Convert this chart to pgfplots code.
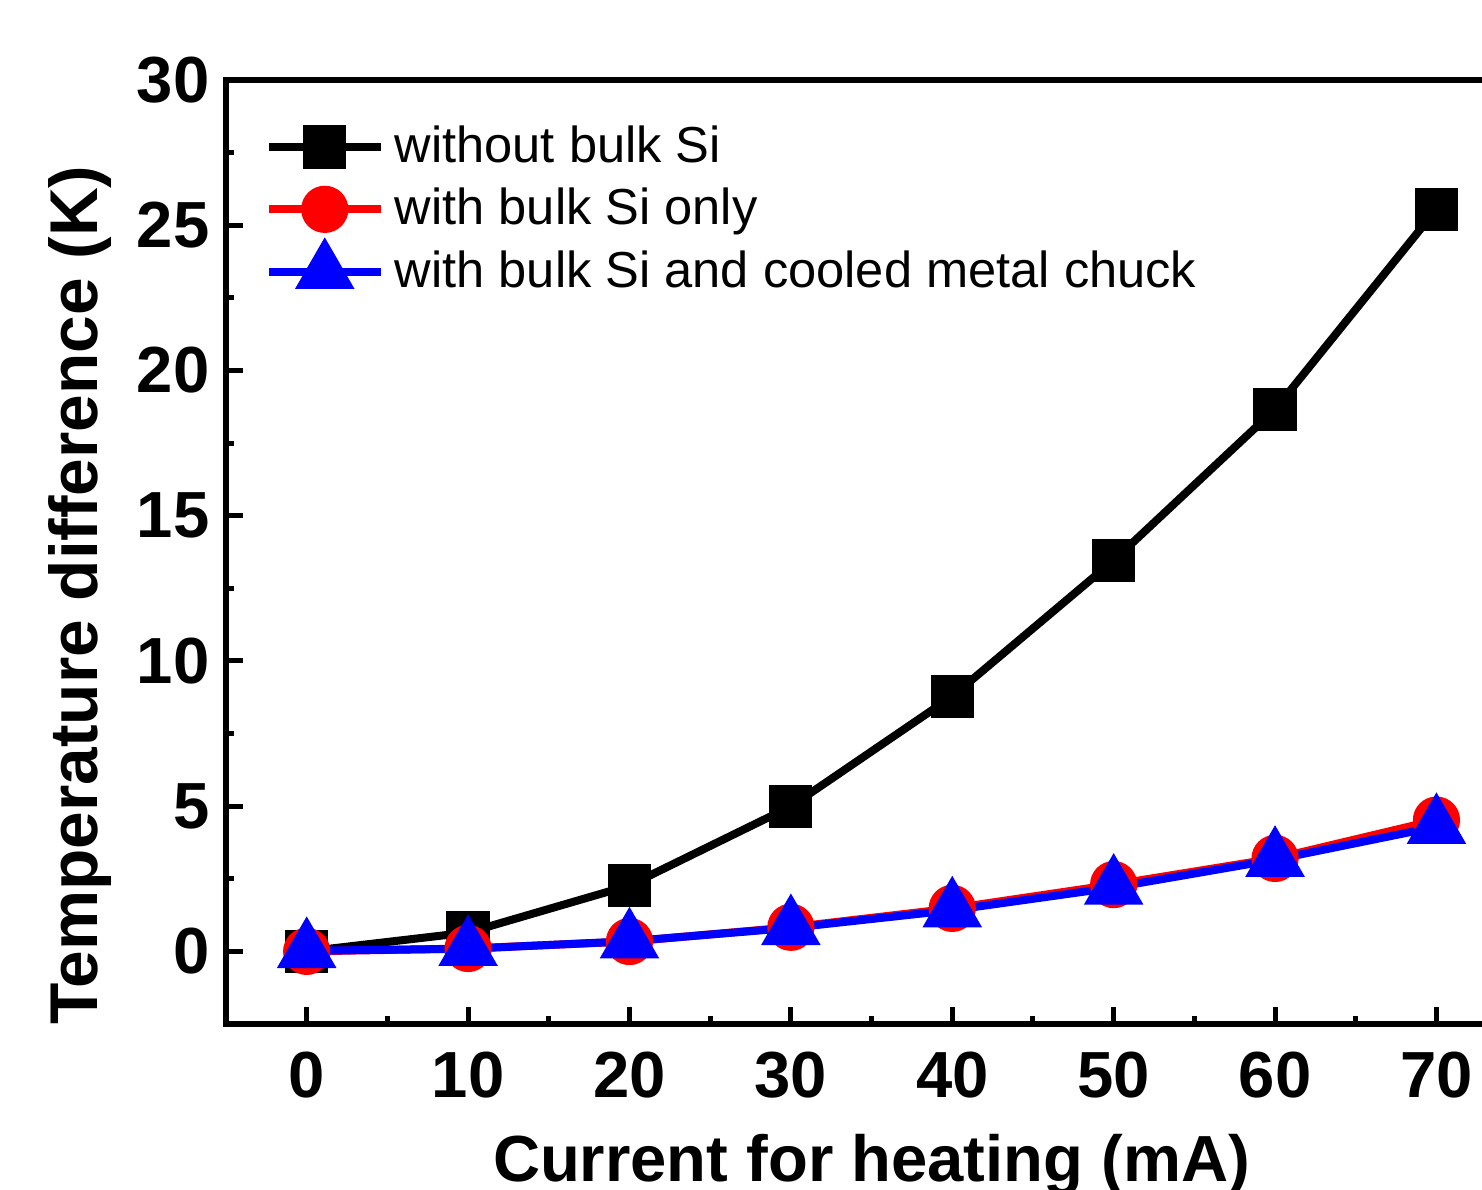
\documentclass[border=0pt]{standalone}
\usepackage{fontspec}
\setmainfont{Liberation Sans}
\usepackage{pgfplots}
\pgfplotsset{compat=1.18}
\begin{document}
\begin{tikzpicture}
\begin{axis}[
 scale only axis, width=322.8pt, height=236pt,
 xmin=-5, xmax=75, ymin=-2.5, ymax=30,
 xtick={0,10,...,70}, ytick={0,5,...,30},
 minor x tick num=1, minor y tick num=1,
 tick pos=left, tick align=inside,
 major tick length=4.25pt, minor tick length=2.1pt,
 every tick/.style={line width=1.25pt, black},
 axis line style={line width=1.3pt},
 /pgf/number format/assume math mode=true,
 ticklabel style={font=\fontsize{16.3}{19}\selectfont\bfseries},
 xticklabel style={anchor=base, yshift=-18.4pt},
 yticklabel style={xshift=-0.6pt},
 xlabel={Current for heating (mA)}, ylabel={Temperature difference (K)},
 xlabel style={font=\fontsize{16.3}{20}\selectfont\bfseries, at={([yshift=-39.3pt]rel axis cs:0.5,0)}, anchor=base},
 ylabel style={font=\fontsize{16.9}{20}\selectfont\bfseries, at={([xshift=-32pt]rel axis cs:0,0.4545)}, anchor=base},
 legend style={draw=none, fill=none, at={(0.0294,0.963)}, anchor=north west,
   font=\fontsize{12.65}{15}\selectfont, inner sep=0pt, row sep=0pt, column sep=2.5pt,
   nodes={text height=11.7pt, text depth=3.9pt, inner sep=0pt}},
 legend cell align=left,
 legend image code/.code={\draw[mark repeat=2,mark phase=2,#1] plot coordinates {(0pt,0pt)(14pt,0pt)(28pt,0pt)};},
]
\addplot[black, line width=2pt, mark=square*, mark size=4.4pt, mark options={solid}] coordinates {
(0,0) (10,0.65) (20,2.27) (30,4.99) (40,8.78) (50,13.46) (60,18.66) (70,25.55)};
\addlegendentry{without bulk Si}
\addplot[red, line width=2pt, mark=*, mark size=4.9pt, mark options={solid}] coordinates {
(0,0) (10,0.1) (20,0.34) (30,0.83) (40,1.48) (50,2.3) (60,3.2) (70,4.52)};
\addlegendentry{with bulk Si only}
\addplot[blue, line width=2pt, mark=triangle*, mark size=6.6pt, mark options={solid}] coordinates {
(0,0.02) (10,0.09) (20,0.35) (30,0.81) (40,1.42) (50,2.2) (60,3.16) (70,4.29)};
\addlegendentry{with bulk Si and cooled metal chuck}
\end{axis}
\pgfresetboundingbox
\path[use as bounding box] ([shift={(-56.5pt,-41.5pt)}]current axis.south west) rectangle ([shift={(314pt,256pt)}]current axis.south west);
\end{tikzpicture}
\end{document}
